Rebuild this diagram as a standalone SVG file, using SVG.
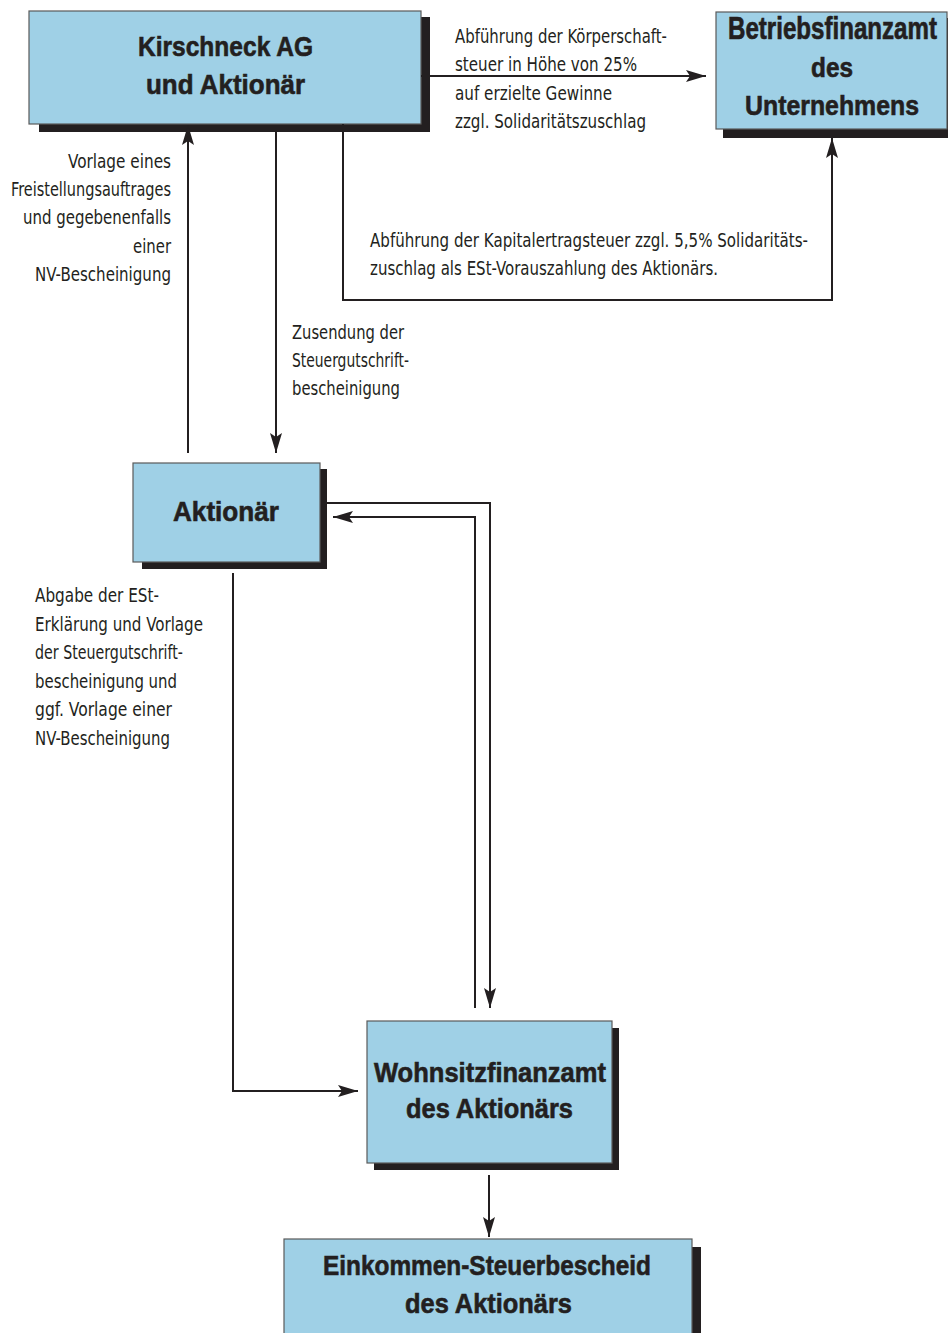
<svg xmlns="http://www.w3.org/2000/svg" width="948" height="1333" viewBox="0 0 948 1333">
<defs>
<marker id="ah" viewBox="0 0 20 12" refX="20" refY="6" markerWidth="20" markerHeight="12" markerUnits="userSpaceOnUse" orient="auto">
<path d="M0,0 L20,6 L0,12 L4,6 Z" fill="#231f20"/>
</marker>
<style>
.box{fill:#9fd0e6;stroke:#5a5a5a;stroke-width:1.2}
.sh{fill:#231f20}
.t{font-family:"Liberation Sans","DejaVu Sans",sans-serif;font-weight:bold;font-size:28px;fill:#231f20;stroke:#231f20;stroke-width:0.6}
.l{font-family:"Liberation Sans Narrow","DejaVu Sans Condensed","Liberation Sans",sans-serif;font-size:19px;fill:#231f20}
.c{fill:none;stroke:#231f20;stroke-width:2}
</style>
</defs>
<rect width="948" height="1333" fill="#ffffff"/>

<g id="kirschneck">
<rect class="sh" x="39" y="17" width="391" height="115"/>
<rect class="box" x="29" y="11" width="392" height="113"/>
<text class="t" x="138" y="56" textLength="175" lengthAdjust="spacingAndGlyphs">Kirschneck AG</text>
<text class="t" x="146" y="94" textLength="159" lengthAdjust="spacingAndGlyphs">und Aktionär</text>
</g>

<g id="betriebsfinanzamt">
<rect class="sh" x="723" y="18" width="230" height="120"/>
<rect class="box" x="716" y="12" width="231" height="117"/>
<text class="t" transform="translate(728,39) scale(1,1.12)" x="0" y="0" font-size="24" textLength="209" lengthAdjust="spacingAndGlyphs">Betriebsfinanzamt</text>
<text class="t" x="811" y="77" textLength="42" lengthAdjust="spacingAndGlyphs">des</text>
<text class="t" x="745" y="115" textLength="174" lengthAdjust="spacingAndGlyphs">Unternehmens</text>
</g>

<g id="aktionaer">
<rect class="sh" x="142" y="469" width="185" height="100"/>
<rect class="box" x="133" y="463" width="187" height="99"/>
<text class="t" x="173" y="521" textLength="106" lengthAdjust="spacingAndGlyphs">Aktionär</text>
</g>

<g id="wohnsitzfinanzamt">
<rect class="sh" x="374" y="1028" width="245" height="142"/>
<rect class="box" x="367" y="1021" width="245" height="142"/>
<text class="t" x="374" y="1082" textLength="232" lengthAdjust="spacingAndGlyphs">Wohnsitzfinanzamt</text>
<text class="t" x="406" y="1118" textLength="167" lengthAdjust="spacingAndGlyphs">des Aktionärs</text>
</g>

<g id="steuerbescheid">
<rect class="sh" x="292" y="1247" width="409" height="100"/>
<rect class="box" x="284" y="1239" width="408" height="100"/>
<text class="t" x="323" y="1275" textLength="328" lengthAdjust="spacingAndGlyphs">Einkommen-Steuerbescheid</text>
<text class="t" x="405" y="1313" textLength="167" lengthAdjust="spacingAndGlyphs">des Aktionärs</text>
</g>

<g id="connectors">
<path class="c" d="M421,76 H706" marker-end="url(#ah)"/>
<path class="c" d="M343,124 V300 H832 V138" marker-end="url(#ah)"/>
<path class="c" d="M188,453 V125" marker-end="url(#ah)"/>
<path class="c" d="M276,132 V453" marker-end="url(#ah)"/>
<path class="c" d="M327,503 H490 V1008" marker-end="url(#ah)"/>
<path class="c" d="M475,1008 V517 H333" marker-end="url(#ah)"/>
<path class="c" d="M233,573 V1091 H358" marker-end="url(#ah)"/>
<path class="c" d="M489,1175 V1237" marker-end="url(#ah)"/>
</g>

<g id="labels">
<text class="l" x="455" y="43" textLength="212" lengthAdjust="spacingAndGlyphs">Abführung der Körperschaft-</text>
<text class="l" x="455" y="71" textLength="182" lengthAdjust="spacingAndGlyphs">steuer in Höhe von 25%</text>
<text class="l" x="455" y="100" textLength="157" lengthAdjust="spacingAndGlyphs">auf erzielte Gewinne</text>
<text class="l" x="455" y="128" textLength="191" lengthAdjust="spacingAndGlyphs">zzgl. Solidaritätszuschlag</text>

<text class="l" x="68" y="168" textLength="103" lengthAdjust="spacingAndGlyphs">Vorlage eines</text>
<text class="l" x="11" y="196" textLength="160" lengthAdjust="spacingAndGlyphs">Freistellungsauftrages</text>
<text class="l" x="23" y="224" textLength="148" lengthAdjust="spacingAndGlyphs">und gegebenenfalls</text>
<text class="l" x="133" y="253" textLength="38" lengthAdjust="spacingAndGlyphs">einer</text>
<text class="l" x="35" y="281" textLength="136" lengthAdjust="spacingAndGlyphs">NV-Bescheinigung</text>

<text class="l" x="370" y="247" textLength="438" lengthAdjust="spacingAndGlyphs">Abführung der Kapitalertragsteuer zzgl. 5,5% Solidaritäts-</text>
<text class="l" x="370" y="275" textLength="348" lengthAdjust="spacingAndGlyphs">zuschlag als ESt-Vorauszahlung des Aktionärs.</text>

<text class="l" x="292" y="339" textLength="112" lengthAdjust="spacingAndGlyphs">Zusendung der</text>
<text class="l" x="292" y="367" textLength="117" lengthAdjust="spacingAndGlyphs">Steuergutschrift-</text>
<text class="l" x="292" y="395" textLength="108" lengthAdjust="spacingAndGlyphs">bescheinigung</text>

<text class="l" x="35" y="602" textLength="124" lengthAdjust="spacingAndGlyphs">Abgabe der ESt-</text>
<text class="l" x="35" y="631" textLength="168" lengthAdjust="spacingAndGlyphs">Erklärung und Vorlage</text>
<text class="l" x="35" y="659" textLength="148" lengthAdjust="spacingAndGlyphs">der Steuergutschrift-</text>
<text class="l" x="35" y="688" textLength="142" lengthAdjust="spacingAndGlyphs">bescheinigung und</text>
<text class="l" x="35" y="716" textLength="137" lengthAdjust="spacingAndGlyphs">ggf. Vorlage einer</text>
<text class="l" x="35" y="745" textLength="135" lengthAdjust="spacingAndGlyphs">NV-Bescheinigung</text>
</g>
</svg>
